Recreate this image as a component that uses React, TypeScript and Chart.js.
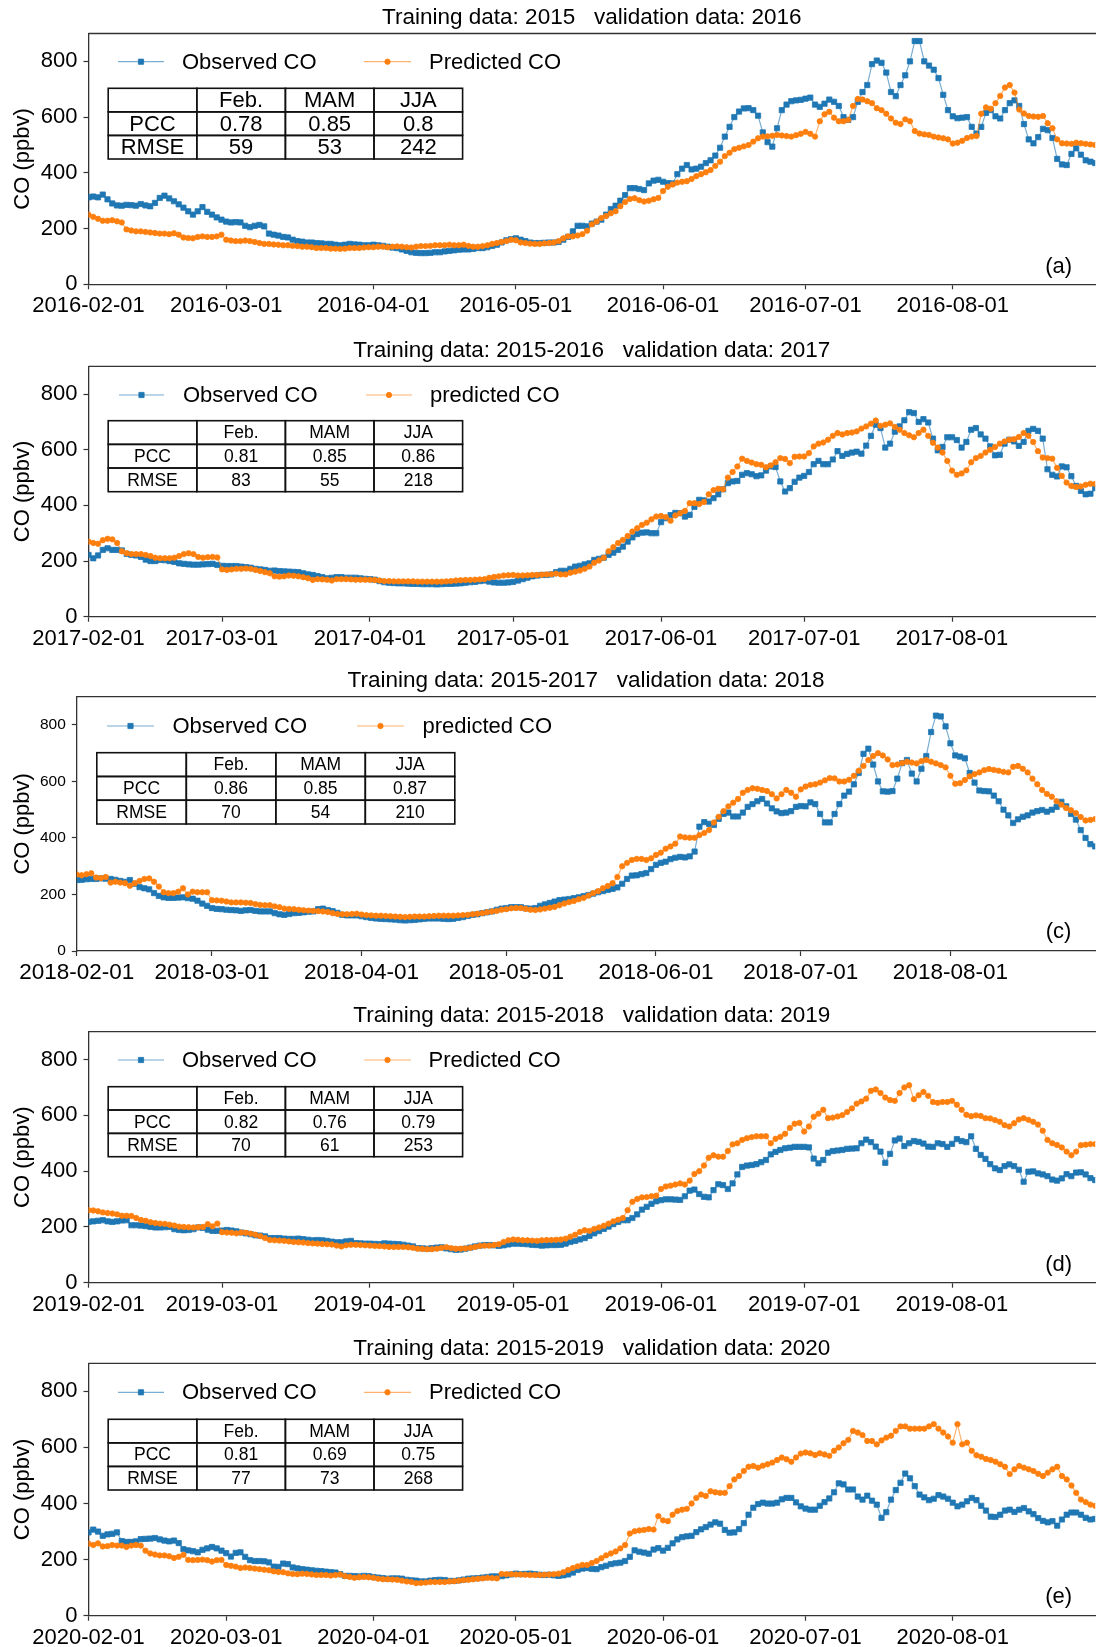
import { useEffect, useRef } from "react";
import { Chart, registerables } from "chart.js";

Chart.register(...registerables);

const FONT = '"Liberation Sans", Arial, Helvetica, sans-serif';
Chart.defaults.font.family = FONT;

// ---------------------------------------------------------------------------
// Daily CO (ppbv), 1 Feb – 31 Aug of each validation year
// ---------------------------------------------------------------------------
const observed2016 = [
  312, 315, 312, 322, 305, 290, 283, 282, 285, 284,
  282, 288, 283, 280, 292, 310, 318, 308, 298, 287,
  275, 262, 250, 262, 277, 260, 250, 240, 232, 225,
  222, 223, 222, 210, 205, 210, 213, 208, 182, 178,
  175, 170, 168, 160, 155, 153, 150, 150, 148, 147,
  145, 145, 142, 140, 142, 145, 143, 142, 140, 140,
  142, 140, 138, 135, 132, 130, 125, 120, 115, 113,
  112, 112, 113, 115, 115, 118, 120, 122, 124, 125,
  125, 127, 130, 130, 133, 138, 142, 150, 158, 162,
  165, 160, 155, 150, 148, 148, 149, 150, 150, 152,
  160, 170, 190, 210, 210, 208, 218, 225, 232, 250,
  270, 282, 300, 320, 345, 345, 342, 338, 362, 372,
  375, 368, 363, 362, 395, 415, 428, 412, 415, 422,
  435, 445, 462, 490, 530, 565, 600, 620, 631, 632,
  625, 605, 545, 510, 494, 560, 625, 645, 657, 660,
  662, 666, 670, 645, 637, 648, 663, 655, 640, 600,
  590, 600, 655, 690, 715, 790, 803, 795, 760, 690,
  675, 715, 750, 800, 873, 873, 800, 785, 770, 740,
  680, 625, 603, 596, 598, 600, 565, 541, 565, 615,
  625, 603, 595, 625, 650, 660, 640, 575, 520, 506,
  528, 558, 553, 525, 450, 430, 428, 468, 488, 465,
  445, 440, 435,
];
const predicted2016 = [
  250, 242, 235, 228, 228, 230, 226, 222, 197, 193,
  190, 190, 188, 186, 184, 182, 182, 180, 183, 178,
  168, 166, 165, 170, 172, 170, 170, 172, 178, 160,
  157, 155, 155, 157, 155, 152, 148, 145, 145, 143,
  142, 140, 140, 138, 137, 135, 135, 133, 130, 130,
  130, 128, 128, 127, 128, 130, 130, 130, 132, 133,
  133, 135, 135, 133, 135, 136, 135, 133, 132, 135,
  137, 137, 138, 140, 140, 140, 142, 140, 140, 142,
  138, 135, 135, 137, 140, 145, 148, 152, 155, 160,
  158, 150, 148, 146, 145, 145, 147, 148, 150, 155,
  165, 172, 172, 175, 180, 192, 215, 225, 238, 245,
  255, 262, 280, 295, 306, 309, 302, 297, 300, 305,
  310, 335, 350, 358, 365, 368, 370, 378, 388, 395,
  402, 410, 425, 440, 460, 472, 485, 490, 495, 500,
  512, 524, 530, 531, 533, 536, 534, 532, 530, 535,
  540, 547, 540, 530, 585, 610, 619, 598, 585, 585,
  590, 640, 665, 663, 657, 650, 632, 625, 612, 595,
  580, 575, 592, 585, 550, 541, 538, 536, 530, 527,
  524, 520, 505, 508, 515, 525, 530, 532, 612, 635,
  630, 650, 676, 706, 715, 688, 627, 613, 604, 602,
  601, 604, 578, 560, 520, 506, 505, 504, 508, 506,
  504, 502, 500,
];

const observed2017 = [
  222, 210, 220, 240, 246, 240, 240, 238, 226, 222,
  220, 215, 205, 200, 200, 204, 203, 200, 197, 192,
  190, 188, 187, 187, 188, 189, 190, 186, 183, 182,
  182, 182, 180, 178, 176, 172, 170, 168, 165, 166,
  164, 163, 162, 161, 160, 156, 152, 150, 146, 142,
  138, 140, 142, 142, 140, 140, 140, 138, 136, 135,
  133, 128, 124, 122, 121, 120, 120, 119, 118, 118,
  117, 117, 117, 116, 117, 118, 118, 119, 120, 122,
  124, 125, 128, 130, 126, 123, 122, 122, 123, 125,
  130, 135, 140, 145, 148, 150, 150, 152, 160, 165,
  165, 172, 180, 183, 188, 192, 204, 208, 212, 222,
  230, 240, 252, 270, 285, 297, 302, 303, 300, 300,
  340, 354, 365, 373, 372, 360, 366, 395, 420, 418,
  414, 426, 440, 458, 480, 486, 488, 510, 516, 512,
  505, 508, 525, 540, 538, 486, 450, 462, 485, 500,
  506, 520, 548, 560, 548, 548, 565, 595, 578, 585,
  590, 593, 586, 615, 650, 690, 678, 608, 622, 665,
  684, 706, 735, 732, 700, 710, 698, 640, 598, 610,
  645, 645, 635, 608, 628, 672, 678, 655, 640, 612,
  580, 582, 622, 636, 630, 614, 628, 668, 675, 668,
  640, 530, 510, 504, 540, 537, 505, 470, 452, 440,
  442, 462,
];
const predicted2017 = [
  270, 265, 262, 275, 280, 278, 265, 235, 228, 225,
  225, 225, 222, 218, 212, 210, 210, 210, 212, 218,
  225, 228, 225, 215, 212, 214, 215, 213, 170, 168,
  170, 172, 172, 173, 172, 168, 164, 160, 156, 145,
  144, 145, 148, 147, 145, 142, 138, 132, 135, 134,
  133, 130, 135, 135, 135, 134, 133, 133, 133, 133,
  132, 130, 128, 128, 127, 127, 127, 127, 127, 126,
  126, 126, 126, 126, 126, 127, 128, 130, 131, 132,
  132, 133, 134, 135, 140, 143, 145, 148, 149, 150,
  148, 148, 149, 150, 150, 151, 152, 153, 155, 152,
  152, 158, 162, 166, 172, 180, 194, 202, 212, 235,
  250, 265, 276, 290, 306, 318, 330, 338, 350, 360,
  362, 358, 345, 364, 372, 380, 408, 408, 405, 412,
  440, 455, 460, 458, 500, 520, 540, 568, 560, 554,
  548, 546, 537, 544, 555, 570, 567, 552, 575, 576,
  576, 588, 612, 622, 626, 636, 650, 660, 655, 660,
  662, 666, 676, 684, 694, 705, 686, 690, 695, 682,
  672, 660, 652, 645, 660, 672, 650, 625, 608, 590,
  560, 525, 510, 515, 526, 555, 570, 578, 590, 600,
  610, 622, 630, 636, 638, 646, 660, 650, 628, 595,
  572, 570, 568, 535, 506, 482, 470, 466, 468, 474,
  478, 477,
];

const observed2018 = [
  251, 252, 254, 255, 255, 257, 256, 255, 252, 248,
  245, 251, 238, 226, 222, 218, 205, 195, 190, 188,
  188, 189, 190, 187, 185, 178, 168, 160, 152, 149,
  148, 146, 145, 144, 142, 144, 145, 142, 140, 140,
  140, 134, 130, 128, 131, 134, 135, 137, 139, 140,
  148, 150, 145, 141, 135, 128, 126, 126, 126, 123,
  120, 117, 115, 114, 113, 112, 111, 109, 108, 109,
  110, 112, 114, 115, 115, 115, 114, 113, 114, 117,
  120, 124, 128, 130, 134, 137, 140, 146, 150, 152,
  155, 155, 155, 151, 150, 152, 160, 165, 170, 175,
  180, 182, 184, 187, 190, 194, 198, 203, 208, 212,
  216, 220, 225, 238, 255, 267, 268, 272, 276, 290,
  305, 312, 316, 325, 330, 333, 331, 335, 352, 440,
  456, 450, 446, 468, 485, 490, 476, 476, 490, 510,
  520, 530, 538, 522, 505, 494, 488, 490, 495, 510,
  513, 512, 526, 520, 485, 455, 455, 485, 520, 550,
  564, 590, 630, 698, 716, 660, 600, 565, 564, 566,
  610, 665, 676, 628, 600, 645, 690, 775, 833, 830,
  795, 735, 692, 688, 682, 630, 596, 568, 566, 565,
  550, 530, 500, 480, 453, 466, 475, 480, 490, 495,
  499, 493, 500, 510, 528, 512, 485, 465, 428, 400,
  378, 370,
];
const predicted2018 = [
  271, 268, 272, 275, 260, 258, 262, 242, 245, 242,
  240, 231, 240, 248, 255, 257, 245, 228, 208, 205,
  205, 210, 222, 200, 210, 208, 208, 208, 180, 179,
  178, 175, 172, 172, 172, 171, 170, 166, 163, 162,
  162, 158, 155, 150, 149, 148, 146, 144, 143, 142,
  141, 140, 138, 134, 131, 130, 130, 131, 132, 129,
  127, 126, 125, 125, 124, 123, 122, 121, 120, 121,
  122, 122, 122, 123, 124, 125, 125, 125, 125, 126,
  127, 128, 130, 132, 134, 137, 140, 142, 146, 148,
  151, 152, 152, 149, 146, 145, 147, 150, 153, 156,
  162, 168, 173, 177, 183, 188, 196, 205, 212, 222,
  230, 240, 262, 300, 312, 322, 326, 326, 322, 328,
  340, 348, 362, 370, 380, 405, 402, 401, 401, 410,
  418, 428, 455, 475, 495, 512, 525, 538, 560, 570,
  576, 574, 570, 566, 555, 540, 555, 570, 560, 546,
  572, 582, 588, 590, 596, 604, 612, 611, 600, 600,
  606, 620, 638, 655, 676, 690, 700, 692, 678, 658,
  660, 665, 670, 667, 664, 672, 676, 670, 664, 658,
  650, 620, 592, 594, 605, 618, 626, 632, 640, 644,
  641, 638, 634, 632, 652, 655, 645, 632, 610, 590,
  570, 556, 546, 530, 518, 506, 498, 488, 474, 462,
  464, 467,
];

const observed2019 = [
  218, 220, 222, 224, 220, 218, 220, 223, 224, 206,
  206, 205, 203, 200, 198, 198, 199, 200, 192, 189,
  188, 189, 192, 198, 197, 190, 186, 186, 187, 189,
  187, 184, 180, 177, 174, 170, 169, 166, 160, 160,
  160, 158, 157, 157, 158, 156, 154, 152, 153, 152,
  150, 147, 145, 145, 148, 150, 142, 141, 140, 140,
  139, 138, 141, 140, 139, 138, 136, 133, 130, 124,
  123, 122, 124, 126, 127, 123, 120, 118, 119, 122,
  126, 130, 133, 135, 135, 134, 132, 134, 137, 140,
  140, 139, 138, 136, 135, 133, 134, 135, 135, 136,
  140, 146, 150, 155, 160, 168, 177, 185, 193, 201,
  210, 218, 224, 224, 232, 245, 262, 272, 283, 292,
  296, 299, 299, 298, 297, 310, 330, 334, 318, 308,
  306, 332, 353, 350, 336, 356, 388, 415, 420, 422,
  425, 432, 440, 460, 469, 476, 482, 484, 487, 487,
  487, 485, 445, 428, 440, 466, 472, 474, 476, 480,
  481, 482, 500, 513, 504, 488, 470, 430, 462, 510,
  517, 490, 500, 508, 505, 499, 488, 487, 500, 497,
  487, 498, 515, 508, 504, 525, 480, 458, 444, 425,
  410, 404, 418, 424, 418, 405, 362, 398, 399, 392,
  388, 382, 370, 366, 374, 389, 382, 395, 396, 388,
  375, 368,
];
const predicted2019 = [
  260, 259, 256, 252, 250, 248, 245, 240, 240, 239,
  232, 225, 222, 217, 214, 212, 211, 208, 205, 201,
  200, 199, 198, 199, 200, 210, 202, 212, 181, 180,
  179, 177, 180, 179, 176, 172, 167, 160, 153, 152,
  151, 150, 148, 146, 145, 144, 142, 141, 140, 139,
  138, 137, 133, 130, 134, 136, 136, 135, 134, 133,
  132, 131, 130, 128, 128, 128, 128, 127, 125, 122,
  121, 120, 120, 122, 125, 127, 124, 122, 122, 123,
  125, 128, 132, 133, 133, 135, 138, 146, 152, 155,
  154, 152, 152, 151, 150, 152, 153, 153, 154, 155,
  158, 165, 172, 182, 188, 186, 193, 198, 204, 212,
  220, 226, 232, 260, 290, 300, 306, 307, 310, 312,
  336, 345, 348, 352, 356, 352, 366, 390, 400, 420,
  448, 457, 452, 452, 472, 496, 500, 512, 518, 522,
  525, 525, 525, 500, 516, 523, 534, 555, 570, 573,
  542, 560, 595, 606, 620, 590, 592, 596, 601, 612,
  625, 642, 650, 660, 688, 693, 680, 664, 655, 652,
  680, 700, 708, 658, 672, 684, 670, 648, 645, 648,
  648, 652, 638, 620, 602, 597, 600, 598, 590, 589,
  583, 577, 565, 560, 572, 585, 590, 584, 577, 567,
  545, 512, 500, 494, 485, 470, 457, 470, 493, 495,
  497, 497,
];

const observed2020 = [
  297, 307, 300, 285, 290, 292, 297, 266, 263, 263,
  265, 273, 274, 275, 277, 272, 268, 265, 268, 259,
  237, 233, 230, 226, 235, 240, 245, 240, 232, 223,
  211, 224, 226, 210, 198, 195, 195, 194, 190, 175,
  174, 186, 184, 172, 169, 166, 164, 162, 160, 159,
  157, 155, 154, 148, 142, 142, 141, 140, 142, 141,
  138, 136, 134, 132, 133, 133, 132, 128, 126, 125,
  122, 122, 125, 127, 128, 127, 124, 124, 126, 129,
  132, 133, 134, 136, 138, 140, 140, 141, 144, 147,
  150, 148, 149, 150, 148, 146, 145, 146, 144, 142,
  144, 147, 154, 163, 168, 170, 167, 166, 173, 178,
  184, 187, 189, 195, 210, 233, 228, 225, 221, 236,
  241, 232, 242, 258, 272, 280, 283, 285, 298, 308,
  316, 325, 333, 328, 306, 296, 297, 309, 330, 360,
  385, 398, 403, 400, 400, 403, 415, 420, 420, 404,
  390, 382, 378, 378, 392, 405, 418, 440, 472, 468,
  450, 450, 425, 414, 428, 410, 396, 349, 369, 414,
  448, 474, 507, 490, 462, 432, 422, 412, 417, 430,
  425, 417, 403, 390, 396, 408, 420, 412, 392, 375,
  353, 352, 360, 375, 378, 370, 378, 384, 372, 362,
  348, 338, 333, 337, 321, 343, 360, 368, 368, 360,
  349, 343, 345,
];
const predicted2020 = [
  257, 252, 258, 247, 248, 252, 250, 250, 245, 250,
  252, 250, 232, 222, 218, 215, 215, 212, 206, 210,
  217, 199, 198, 199, 200, 198, 193, 198, 199, 181,
  178, 175, 170, 172, 170, 168, 166, 164, 162, 158,
  156, 155, 151, 149, 148, 150, 149, 147, 145, 145,
  145, 143, 145, 147, 141, 138, 135, 137, 138, 137,
  135, 132, 130, 130, 129, 128, 125, 122, 120, 116,
  117, 118, 120, 120, 120, 120, 122, 123, 125, 127,
  128, 130, 132, 133, 135, 134, 133, 149, 148, 148,
  147, 147, 146, 145, 145, 145, 146, 147, 148, 150,
  155, 163, 170, 176, 181, 181, 188, 195, 205, 215,
  222, 229, 240, 252, 293, 301, 304, 306, 309, 307,
  355, 340, 337, 360, 373, 378, 381, 400, 420, 432,
  427, 444, 440, 438, 438, 462, 486, 498, 516, 531,
  534, 528, 535, 540, 546, 555, 564, 558, 549, 564,
  578, 582, 579, 573, 579, 575, 570, 588, 600, 615,
  627, 659, 653, 644, 623, 623, 611, 625, 635, 642,
  659, 675, 675, 667, 667, 667, 667, 675, 683, 667,
  653, 639, 617, 683, 611, 617, 588, 572, 567, 559,
  555, 549, 540, 531, 505, 522, 534, 528, 522, 516,
  506, 498, 510, 522, 531, 498, 486, 464, 438, 414,
  405, 396, 392,
];

// Month-start tick labels
const ticks2016 = ["2016-02-01", "2016-03-01", "2016-04-01", "2016-05-01", "2016-06-01", "2016-07-01", "2016-08-01"];
const ticks2017 = ["2017-02-01", "2017-03-01", "2017-04-01", "2017-05-01", "2017-06-01", "2017-07-01", "2017-08-01"];
const ticks2018 = ["2018-02-01", "2018-03-01", "2018-04-01", "2018-05-01", "2018-06-01", "2018-07-01", "2018-08-01"];
const ticks2019 = ["2019-02-01", "2019-03-01", "2019-04-01", "2019-05-01", "2019-06-01", "2019-07-01", "2019-08-01"];
const ticks2020 = ["2020-02-01", "2020-03-01", "2020-04-01", "2020-05-01", "2020-06-01", "2020-07-01", "2020-08-01"];
const yTickValues = [0, 200, 400, 600, 800];

// Skill scores per season
const seasonHeaders = ["Feb.", "MAM", "JJA"];
const statNames = ["PCC", "RMSE"];
const pcc2016 = ["0.78", "0.85", "0.8"];
const rmse2016 = ["59", "53", "242"];
const pcc2017 = ["0.81", "0.85", "0.86"];
const rmse2017 = ["83", "55", "218"];
const pcc2018 = ["0.86", "0.85", "0.87"];
const rmse2018 = ["70", "54", "210"];
const pcc2019 = ["0.82", "0.76", "0.79"];
const rmse2019 = ["70", "61", "253"];
const pcc2020 = ["0.81", "0.69", "0.75"];
const rmse2020 = ["77", "73", "268"];

// ---------------------------------------------------------------------------
// Layout
// ---------------------------------------------------------------------------
const PAGE_W = 1096;
const PAGE_H = 1647;
const CANVAS_W = 1100;
const PLOT_RIGHT = 1097;
const AXIS_COLOR = "#333333";
const BLUE = "#1f77b4";
const BLUE_LINE = "rgba(31,119,180,0.6)";
const ORANGE = "#ff7f0e";
const ORANGE_LINE = "rgba(255,127,14,0.6)";
const TITLE_SIZE = 22.5;
const TITLE_LH = TITLE_SIZE * 1.2;
const X_AXIS_H = 44;

type PanelSpec = {
  title: string;
  observed: number[];
  predicted: number[];
  predLabel: string;
  ticks: string[];
  pcc: string[];
  rmse: string[];
  tag: string | null;
  top: number;
  titleY: number;
  plotTop: number;
  plotBottom: number;
  plotLeft: number;
  yTickSize: number;
  xTickSize: number;
  tableFont: number;
  table: { left: number; top: number; bottom: number; colW: number };
  legend: { y: number; obs: number[]; pred: number[] };
  tagY: number;
};

const panels: PanelSpec[] = [
  {
    title: "Training data: 2015   validation data: 2016",
    observed: observed2016, predicted: predicted2016, predLabel: "Predicted CO",
    ticks: ticks2016, pcc: pcc2016, rmse: rmse2016, tag: "(a)",
    top: 0, titleY: 17.3, plotTop: 33.5, plotBottom: 284.3, plotLeft: 88.5,
    yTickSize: 22, xTickSize: 22, tableFont: 22,
    table: { left: 108.2, top: 88.3, bottom: 159, colW: 88.6 },
    legend: { y: 61.7, obs: [118, 164, 182], pred: [364, 411, 429] },
    tagY: 266.7,
  },
  {
    title: "Training data: 2015-2016   validation data: 2017",
    observed: observed2017, predicted: predicted2017, predLabel: "predicted CO",
    ticks: ticks2017, pcc: pcc2017, rmse: rmse2017, tag: null,
    top: 330, titleY: 350.5, plotTop: 366.3, plotBottom: 616.7, plotLeft: 88.5,
    yTickSize: 22, xTickSize: 22, tableFont: 17.5,
    table: { left: 108.2, top: 420.7, bottom: 491.7, colW: 88.6 },
    legend: { y: 395, obs: [119, 164, 183], pred: [366, 412, 430] },
    tagY: 0,
  },
  {
    title: "Training data: 2015-2017   validation data: 2018",
    observed: observed2018, predicted: predicted2018, predLabel: "predicted CO",
    ticks: ticks2018, pcc: pcc2018, rmse: rmse2018, tag: "(c)",
    top: 662, titleY: 681, plotTop: 696.7, plotBottom: 951, plotLeft: 76.8,
    yTickSize: 15.5, xTickSize: 22.5, tableFont: 17.5,
    table: { left: 96.8, top: 752.7, bottom: 824, colW: 89.5 },
    legend: { y: 726, obs: [107, 154, 172.5], pred: [357, 404, 422.5] },
    tagY: 931.7,
  },
  {
    title: "Training data: 2015-2018   validation data: 2019",
    observed: observed2019, predicted: predicted2019, predLabel: "Predicted CO",
    ticks: ticks2019, pcc: pcc2019, rmse: rmse2019, tag: "(d)",
    top: 997, titleY: 1016, plotTop: 1031.7, plotBottom: 1282.7, plotLeft: 88.5,
    yTickSize: 22, xTickSize: 22, tableFont: 17.5,
    table: { left: 108.2, top: 1086.7, bottom: 1156.7, colW: 88.6 },
    legend: { y: 1060, obs: [118, 164, 182], pred: [364, 411, 428.6] },
    tagY: 1265,
  },
  {
    title: "Training data: 2015-2019   validation data: 2020",
    observed: observed2020, predicted: predicted2020, predLabel: "Predicted CO",
    ticks: ticks2020, pcc: pcc2020, rmse: rmse2020, tag: "(e)",
    top: 1329, titleY: 1348.5, plotTop: 1363.3, plotBottom: 1615.7, plotLeft: 88.5,
    yTickSize: 22, xTickSize: 22, tableFont: 17.5,
    table: { left: 108.2, top: 1419.3, bottom: 1490, colW: 88.6 },
    legend: { y: 1392.3, obs: [118, 164, 182], pred: [364, 411, 429] },
    tagY: 1596.7,
  },
];

function dayOffset(date: string, start: string): number {
  return Math.round((Date.parse(date) - Date.parse(start)) / 86400000);
}

function drawMarker(ctx: CanvasRenderingContext2D, style: string, x: number, y: number, r: number, color: string) {
  ctx.save();
  ctx.fillStyle = color;
  ctx.strokeStyle = color;
  ctx.lineWidth = 0.8;
  ctx.beginPath();
  if (style === "rect") {
    const h = r * Math.SQRT1_2;
    ctx.rect(x - h, y - h, 2 * h, 2 * h);
  } else {
    ctx.arc(x, y, r, 0, Math.PI * 2);
  }
  ctx.fill();
  ctx.stroke();
  ctx.restore();
}

function CoPanel({ p }: { p: PanelSpec }) {
  const ref = useRef<HTMLCanvasElement>(null);
  const height = Math.round(p.plotBottom - p.top + X_AXIS_H);

  useEffect(() => {
    const canvas = ref.current;
    if (!canvas) return;
    const start = p.ticks[0];
    const tickDays = p.ticks.map((t) => dayOffset(t, start));
    const lastDay = p.observed.length - 1;
    const axisH = height - (p.plotBottom - p.top);
    const padTop = p.titleY - p.top - TITLE_LH / 2;
    const padBottom = p.plotTop - p.top - padTop - TITLE_LH;
    const off = p.top;

    const framePlugin = {
      id: "coFrame",
      afterDraw(chart: any) {
        const { ctx, chartArea } = chart;
        ctx.save();
        ctx.strokeStyle = AXIS_COLOR;
        ctx.lineWidth = 1.3;
        ctx.beginPath();
        ctx.moveTo(chartArea.left, chartArea.top);
        ctx.lineTo(chart.width, chartArea.top);
        ctx.stroke();
        ctx.restore();
      },
    };

    const legendPlugin = {
      id: "coLegend",
      afterDraw(chart: any) {
        const { ctx } = chart;
        const spots = [p.legend.obs, p.legend.pred];
        const y = p.legend.y - off;
        chart.data.datasets.forEach((ds: any, i: number) => {
          const [x0, x1, tx] = spots[i];
          ctx.save();
          ctx.strokeStyle = ds.borderColor;
          ctx.lineWidth = ds.borderWidth;
          ctx.beginPath();
          ctx.moveTo(x0, y);
          ctx.lineTo(x1, y);
          ctx.stroke();
          ctx.restore();
          drawMarker(ctx, ds.pointStyle, (x0 + x1) / 2, y, ds.pointRadius, ds.pointBackgroundColor);
          ctx.save();
          ctx.fillStyle = "#000";
          ctx.font = `22px ${FONT}`;
          ctx.textAlign = "left";
          ctx.textBaseline = "middle";
          ctx.fillText(ds.label, tx, y + 1);
          ctx.restore();
        });
      },
    };

    const tablePlugin = {
      id: "coTable",
      afterDraw(chart: any) {
        const { ctx } = chart;
        const t = p.table;
        const rows = [["", ...seasonHeaders], [statNames[0], ...p.pcc], [statNames[1], ...p.rmse]];
        const rowH = (t.bottom - t.top) / rows.length;
        const top = t.top - off;
        ctx.save();
        ctx.fillStyle = "#fff";
        ctx.fillRect(t.left, top, t.colW * 4, rowH * 3);
        ctx.strokeStyle = "#111";
        ctx.lineWidth = 1.6;
        ctx.font = `${p.tableFont}px ${FONT}`;
        ctx.textAlign = "center";
        ctx.textBaseline = "middle";
        rows.forEach((row, r) => {
          row.forEach((cell, c) => {
            const x = t.left + c * t.colW;
            const y = top + r * rowH;
            ctx.strokeRect(x, y, t.colW, rowH);
            ctx.fillStyle = "#000";
            ctx.fillText(cell, x + t.colW / 2, y + rowH / 2 + 1);
          });
        });
        ctx.restore();
      },
    };

    const tagPlugin = {
      id: "coTag",
      afterDraw(chart: any) {
        if (!p.tag) return;
        const { ctx } = chart;
        ctx.save();
        ctx.fillStyle = "#000";
        ctx.font = `22px ${FONT}`;
        ctx.textAlign = "center";
        ctx.textBaseline = "middle";
        ctx.fillText(p.tag, 1058.6, p.tagY - off);
        ctx.restore();
      },
    };

    const chart = new Chart(canvas, {
      type: "line",
      data: {
        datasets: [
          {
            label: "Observed CO",
            data: p.observed.map((v, i) => ({ x: i, y: v })),
            borderColor: BLUE_LINE,
            borderWidth: 1.2,
            pointStyle: "rect",
            pointRadius: 3.7,
            pointBackgroundColor: BLUE,
            pointBorderColor: BLUE,
            pointBorderWidth: 0.8,
            tension: 0,
            order: 1,
          },
          {
            label: p.predLabel,
            data: p.predicted.map((v, i) => ({ x: i, y: v })),
            borderColor: ORANGE_LINE,
            borderWidth: 1.2,
            pointStyle: "circle",
            pointRadius: 2.7,
            pointBackgroundColor: ORANGE,
            pointBorderColor: ORANGE,
            pointBorderWidth: 0.8,
            tension: 0,
            order: 0,
          },
        ],
      },
      options: {
        responsive: false,
        animation: false,
        devicePixelRatio: 1,
        events: [],
        layout: { padding: { left: 0, right: CANVAS_W - PLOT_RIGHT, top: 0, bottom: 0 } },
        plugins: {
          legend: { display: false },
          tooltip: { enabled: false },
          title: {
            display: true,
            fullSize: false,
            text: p.title,
            color: "#000",
            font: { family: FONT, size: TITLE_SIZE, weight: "normal", lineHeight: 1.2 },
            padding: { top: padTop, bottom: padBottom },
          },
        },
        scales: {
          x: {
            type: "linear",
            min: 0,
            max: lastDay,
            afterBuildTicks: (s: any) => {
              s.ticks = tickDays.map((v) => ({ value: v }));
            },
            afterFit: (s: any) => {
              s.height = axisH;
            },
            ticks: {
              autoSkip: false,
              maxRotation: 0,
              minRotation: 0,
              padding: 6,
              color: "#000",
              font: { family: FONT, size: p.xTickSize, lineHeight: 1 },
              callback: (_v: any, i: number) => p.ticks[i],
            },
            grid: { display: true, drawOnChartArea: false, drawTicks: true, tickLength: 5, tickColor: AXIS_COLOR, tickWidth: 1.2 },
            border: { display: true, color: AXIS_COLOR, width: 1.3 },
          },
          y: {
            type: "linear",
            min: 0,
            max: 900,
            afterBuildTicks: (s: any) => {
              s.ticks = yTickValues.map((v) => ({ value: v }));
            },
            afterFit: (s: any) => {
              s.width = p.plotLeft;
            },
            ticks: {
              padding: 6,
              color: "#000",
              font: { family: FONT, size: p.yTickSize },
            },
            title: {
              display: true,
              text: "CO (ppbv)",
              color: "#000",
              font: { family: FONT, size: 22, lineHeight: 1.2 },
              padding: { top: 10, bottom: 0 },
            },
            grid: { display: true, drawOnChartArea: false, drawTicks: true, tickLength: 5, tickColor: AXIS_COLOR, tickWidth: 1.2 },
            border: { display: true, color: AXIS_COLOR, width: 1.3 },
          },
        },
      },
      plugins: [framePlugin, legendPlugin, tablePlugin, tagPlugin],
    } as any);

    return () => chart.destroy();
  }, [p, height]);

  return (
    <canvas
      ref={ref}
      width={CANVAS_W}
      height={height}
      style={{ position: "absolute", left: 0, top: p.top, width: CANVAS_W, height }}
    />
  );
}

export default function App() {
  return (
    <div
      style={{
        position: "absolute",
        left: 0,
        top: 0,
        width: PAGE_W,
        height: PAGE_H,
        overflow: "hidden",
        background: "#fff",
      }}
    >
      {panels.map((p, i) => (
        <CoPanel key={i} p={p} />
      ))}
    </div>
  );
}
